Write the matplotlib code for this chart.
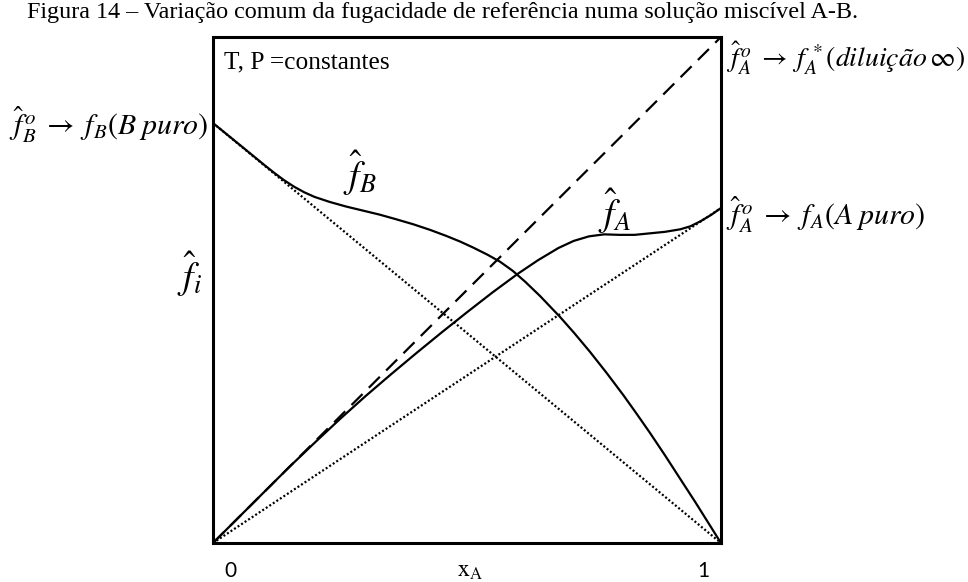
import matplotlib
matplotlib.use("Agg")
import matplotlib.pyplot as plt
import matplotlib.transforms as mtransforms

# x_A grid and curve values (fractions of the box height)
xB = [0.0, 0.033, 0.066, 0.10, 0.12, 0.14, 0.16, 0.18, 0.20, 0.23, 0.262,
      0.295, 0.328, 0.36, 0.394, 0.427, 0.459, 0.486, 0.512, 0.54, 0.565, 0.59,
      0.615, 0.644, 0.683, 0.712, 0.742, 0.775, 0.808, 0.835, 0.86, 0.89, 0.919,
      0.95, 0.975, 1.0]
fB = [0.830, 0.803, 0.776, 0.748, 0.732, 0.717, 0.704, 0.693, 0.684, 0.674, 0.665,
      0.657, 0.649, 0.640, 0.630, 0.619, 0.607, 0.596, 0.584, 0.570, 0.556, 0.538,
      0.516, 0.488, 0.447, 0.414, 0.378, 0.336, 0.292, 0.254, 0.218, 0.173, 0.128,
      0.080, 0.040, 0.0]

xA = [0.0, 0.05, 0.10, 0.15, 0.20, 0.25, 0.30, 0.35, 0.40, 0.45, 0.50, 0.55,
      0.60, 0.64, 0.68, 0.71, 0.74, 0.77, 0.80, 0.83, 0.86, 0.89, 0.92, 0.94,
      0.96, 0.98, 1.0]
fA = [0.0, 0.050, 0.100, 0.150, 0.198, 0.245, 0.290, 0.333, 0.375, 0.416, 0.456, 0.495,
      0.532, 0.559, 0.583, 0.597, 0.606, 0.610, 0.609, 0.609, 0.612, 0.615, 0.620, 0.626,
      0.636, 0.648, 0.662]

fB_pure = 0.830
fA_pure = 0.662
henry_x = [0.0, 1.0]
henry_y = [0.0, 1.0]

plt.rcParams["font.family"] = ["Liberation Serif", "DejaVu Serif"]
plt.rcParams["mathtext.fontset"] = "stix"

fig = plt.figure(figsize=(9.68, 5.82), dpi=100)
ax = fig.add_axes([0.22, 0.067, 0.5248, 0.8694])

ax.plot(henry_x, henry_y, color="black", lw=1.6, linestyle=(0, (7, 4)))
ax.plot([0, 1], [fB_pure, 0], color="black", lw=1.6, linestyle=(0, (0.9, 1.0)))
ax.plot([0, 1], [0, fA_pure], color="black", lw=1.6, linestyle=(0, (0.9, 1.0)))
ax.plot(xB, fB, color="black", lw=1.6)
ax.plot(xA, fA, color="black", lw=1.6)

ax.set_xlim(0, 1)
ax.set_ylim(0, 1)
for s in ax.spines.values():
    s.set_linewidth(2.2)
ax.set_yticks([])
ax.set_xticks([0, 1])
ax.set_xticklabels(["0", "1"], family="Lato", fontsize=15)
ax.tick_params(axis="x", length=0, pad=13)
# the 0 / 1 labels sit a little inside the corners
offs = [17, -18]
for lab, dx in zip(ax.get_xticklabels(), offs):
    lab.set_transform(lab.get_transform() +
                      mtransforms.ScaledTranslation(dx / 100, 0, fig.dpi_scale_trans))
ax.text(0.505, -0.035, r"$\mathrm{x_A}$", transform=ax.transAxes, ha="center",
        va="top", fontsize=17)

fig.text(0.457, 0.978, "Figura 14 – Variação comum da fugacidade de referência numa solução miscível A-B.",
         ha="center", va="center", fontsize=17.4)

ax.text(0.022, 0.95, "T, P =constantes", transform=ax.transAxes, ha="left",
        va="center", fontsize=18.3)

ax.text(-0.008, fB_pure - 0.003, r"$\hat{f}_B^{\,o} \;\rightarrow\; f_B(B\;puro)$",
        transform=ax.transAxes, ha="right", va="center", fontsize=21.5)
ax.text(1.01, 0.958, r"$\hat{f}_A^{\,o} \;\rightarrow\; f_A^{\,*}(\mathit{diluição}\,\infty)$",
        transform=ax.transAxes, ha="left", va="center", fontsize=20)
ax.text(1.01, fA_pure - 0.013, r"$\hat{f}_A^{\,o} \;\rightarrow\; f_A(A\;puro)$",
        transform=ax.transAxes, ha="left", va="center", fontsize=21.5)

ax.text(0.29, 0.73, r"$\hat{f}_B$", transform=ax.transAxes, ha="center",
        va="center", fontsize=27)
ax.text(0.79, 0.655, r"$\hat{f}_A$", transform=ax.transAxes, ha="center",
        va="center", fontsize=27)
ax.text(-0.045, 0.53, r"$\hat{f}_i$", transform=ax.transAxes, ha="center",
        va="center", fontsize=27)

fig.savefig("out.png", dpi=100)
